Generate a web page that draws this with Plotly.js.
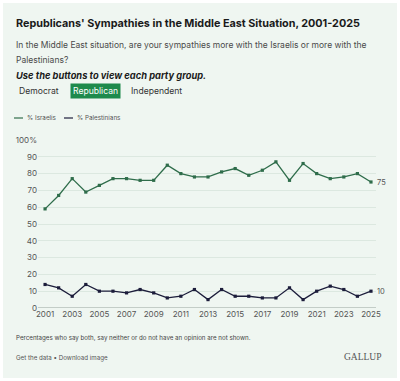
<!DOCTYPE html>
<html>
<head>
<meta charset="utf-8">
<script src="https://cdn.plot.ly/plotly-3.0.1.min.js"></script>
<style>
  html, body { margin: 0; padding: 0; background: #ffffff; }
  #wrap { position: absolute; left: 3px; top: 3px; width: 394px; height: 375px; }
</style>
</head>
<body>
<div id="wrap"></div>
<script>
const years = [2001,2002,2003,2004,2005,2006,2007,2008,2009,2010,2011,2012,2013,2014,2015,2016,2017,2018,2019,2020,2021,2022,2023,2024,2025];
const israelis = [59,67,77,69,73,77,77,76,76,85,80,78,78,81,83,79,82,87,76,86,80,77,78,80,75];
const palestinians = [14,12,7,14,10,10,9,11,9,6,7,11,5,11,7,7,6,6,12,5,10,13,11,7,10];
const seriesNames = ["% Israelis", "% Palestinians"];
const yTickVals = [0,10,20,30,40,50,60,70,80,90,100];
const yTickText = ["0","10","20","30","40","50","60","70","80","90","100%"];
const xTickVals = [2001,2003,2005,2007,2009,2011,2013,2015,2017,2019,2021,2023,2025];
const partyButtons = ["Democrat", "Republican", "Independent"];

const green = "#2f6d4b";
const navy = "#1c1d3b";
const bg = "#eff6f1";

// layout helpers: absolute page pixels -> paper coords
const W = 394, H = 375, ML = 35, MR = 21, MT = 137, MB = 70;
const PW = W - ML - MR, PH = H - MT - MB;
const px = x => (x - 3 - ML) / PW;
const py = y => (H - MB + 3 - y) / PH;

const font = "Inter, 'Noto Sans', sans-serif";

const traces = [
  { x: years, y: israelis, name: seriesNames[0], type: "scatter", mode: "lines+markers",
    line: { color: green, width: 1.3 }, marker: { color: green, size: 3.2, symbol: "square" }, hoverinfo: "x+y" },
  { x: years, y: palestinians, name: seriesNames[1], type: "scatter", mode: "lines+markers",
    line: { color: navy, width: 1.3 }, marker: { color: navy, size: 3.2, symbol: "square" }, hoverinfo: "x+y" }
];

const last = years.length - 1;
const annotations = [
  { xref: "paper", yref: "paper", x: px(14), y: py(23), xanchor: "left", yanchor: "middle", showarrow: false,
    text: "<b>Republicans' Sympathies in the Middle East Situation, 2001-2025</b>", font: { family: font, size: 10.8, color: "#1a1a1a" } },
  { xref: "paper", yref: "paper", x: px(14), y: py(45), xanchor: "left", yanchor: "middle", showarrow: false,
    text: "In the Middle East situation, are your sympathies more with the Israelis or more with the", font: { family: font, size: 8.5, color: "#4a4a4a" } },
  { xref: "paper", yref: "paper", x: px(14), y: py(60), xanchor: "left", yanchor: "middle", showarrow: false,
    text: "Palestinians?", font: { family: font, size: 8.5, color: "#4a4a4a" } },
  { xref: "paper", yref: "paper", x: px(14), y: py(75), xanchor: "left", yanchor: "middle", showarrow: false,
    text: "<b><i>Use the buttons to view each party group.</i></b>", font: { family: font, size: 9.3, color: "#1a1a1a" } },
  { xref: "paper", yref: "paper", x: px(17), y: py(91), xanchor: "left", yanchor: "middle", showarrow: false,
    text: partyButtons[0], font: { family: font, size: 8.6, color: "#333" } },
  { xref: "paper", yref: "paper", x: px(70), y: py(91), xanchor: "left", yanchor: "middle", showarrow: false,
    text: partyButtons[1], font: { family: font, size: 8.6, color: "#ffffff" }, bgcolor: "#1e8a4c", borderpad: 2 },
  { xref: "paper", yref: "paper", x: px(129), y: py(91), xanchor: "left", yanchor: "middle", showarrow: false,
    text: partyButtons[2], font: { family: font, size: 8.6, color: "#333" } },
  { xref: "paper", yref: "paper", x: px(25), y: py(118), xanchor: "left", yanchor: "middle", showarrow: false,
    text: seriesNames[0], font: { family: font, size: 6.3, color: "#555" } },
  { xref: "paper", yref: "paper", x: px(75), y: py(118), xanchor: "left", yanchor: "middle", showarrow: false,
    text: seriesNames[1], font: { family: font, size: 6.3, color: "#555" } },
  { xref: "x", yref: "y", x: years[last], y: israelis[last], xanchor: "left", yanchor: "middle", showarrow: false, xshift: 4,
    text: String(israelis[last]), font: { family: font, size: 7.5, color: "#555" } },
  { xref: "x", yref: "y", x: years[last], y: palestinians[last], xanchor: "left", yanchor: "middle", showarrow: false, xshift: 4,
    text: String(palestinians[last]), font: { family: font, size: 7.5, color: "#555" } },
  { xref: "paper", yref: "paper", x: px(14), y: py(338), xanchor: "left", yanchor: "middle", showarrow: false,
    text: "Percentages who say both, say neither or do not have an opinion are not shown.", font: { family: font, size: 6.2, color: "#444" } },
  { xref: "paper", yref: "paper", x: px(14), y: py(358), xanchor: "left", yanchor: "middle", showarrow: false,
    text: "Get the data • Download image", font: { family: font, size: 6.2, color: "#555" } },
  { xref: "paper", yref: "paper", x: px(383), y: py(357), xanchor: "right", yanchor: "middle", showarrow: false,
    text: "GALLUP", font: { family: "'Liberation Serif', 'DejaVu Serif', serif", size: 9.5, color: "#555" } }
];

const shapes = [
  { type: "line", xref: "paper", yref: "paper", x0: px(14), x1: px(23), y0: py(118), y1: py(118), line: { color: green, width: 1.2 } },
  { type: "line", xref: "paper", yref: "paper", x0: px(64), x1: px(73), y0: py(118), y1: py(118), line: { color: navy, width: 1.2 } },
  { type: "line", xref: "paper", yref: "y", x0: 0, x1: 1, y0: 0, y1: 0, line: { color: "#c3cdc7", width: 2 }, layer: "below" }
];

const layout = {
  width: W, height: H,
  margin: { l: ML, r: MR, t: MT, b: MB, pad: 0 },
  paper_bgcolor: bg, plot_bgcolor: bg,
  showlegend: false,
  font: { family: font, color: "#555" },
  xaxis: {
    range: [2000.48, 2025.37], tickvals: xTickVals, ticks: "", showgrid: false, zeroline: false, showline: false,
    tickfont: { family: font, size: 8, color: "#555" }, ticklen: 0
  },
  yaxis: {
    range: [0, 100], tickvals: yTickVals, ticktext: yTickText, showgrid: true, gridcolor: "#dce8e0", gridwidth: 1,
    zeroline: false, showline: false, ticks: "", tickfont: { family: font, size: 8, color: "#555" }
  },
  annotations: annotations,
  shapes: shapes
};

Plotly.newPlot("wrap", traces, layout, { displayModeBar: false, staticPlot: true });
</script>
</body>
</html>
